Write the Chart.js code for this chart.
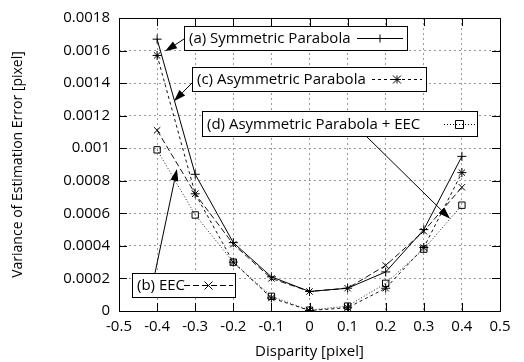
<!DOCTYPE html>
<html>
<head>
<meta charset="utf-8">
<script src="https://cdn.jsdelivr.net/npm/chart.js@4"></script>
<style>
  body { margin: 0; background: #fff; }
  canvas { display: block; }
</style>
</head>
<body>
<canvas id="chart" width="524" height="362"></canvas>
<script>
// ===== DATA =====
const disparity    = [-0.4, -0.3, -0.2, -0.1, 0, 0.1, 0.2, 0.3, 0.4];
const symParabola  = [0.00167, 0.00084, 0.00042, 0.00021, 0.00012, 0.00014, 0.00024, 0.00050, 0.00095];
const eec          = [0.00111, 0.00072, 0.00041, 0.00020, 0.00012, 0.00014, 0.00028, 0.00049, 0.00076];
const asymParabola = [0.00157, 0.00072, 0.00030, 0.00008, 0.000003, 0.00002, 0.00014, 0.00039, 0.00085];
const asymEEC      = [0.00099, 0.00059, 0.00030, 0.00009, 0.000005, 0.00003, 0.00017, 0.00038, 0.00065];

const xTicks = [-0.5, -0.4, -0.3, -0.2, -0.1, 0, 0.1, 0.2, 0.3, 0.4, 0.5];
const yTicks = [0, 0.0002, 0.0004, 0.0006, 0.0008, 0.001, 0.0012, 0.0014, 0.0016, 0.0018];

const FONT = '"Open Sans", "DejaVu Sans", sans-serif';

function pts(arr) {
  return disparity.map(function (x, i) { return { x: x, y: arr[i] }; });
}

// label boxes with arrows (tip given in data units)
const notes = [
  { text: '(a) Symmetric Parabola', box: [184, 26, 407, 50], sample: [357, 403], dash: [], mark: 'plus',
    from: [184, 39], tip: [-0.379, 0.001595] },
  { text: '(c) Asymmetric Parabola', box: [192, 67, 426, 91], sample: [372, 422], dash: [3, 3], mark: 'star',
    from: [192, 83], tip: [-0.356, 0.001288] },
  { text: '(d) Asymmetric Parabola + EEC', box: [202, 111, 477, 136], sample: [444, 475], dash: [1, 2], mark: 'square',
    from: [366, 136], tip: [0.369, 0.000567] },
  { text: '(b) EEC', box: [132, 273, 235, 297], sample: [184, 233], dash: [6, 3], mark: 'cross',
    from: [155, 273], tip: [-0.348, 0.000873] }
];

function drawMark(ctx, kind, x, y) {
  const r = 4;
  ctx.save();
  ctx.setLineDash([]);
  ctx.lineWidth = 1;
  ctx.strokeStyle = '#000';
  ctx.beginPath();
  if (kind === 'plus' || kind === 'star') {
    ctx.moveTo(x - r, y); ctx.lineTo(x + r, y);
    ctx.moveTo(x, y - r); ctx.lineTo(x, y + r);
  }
  if (kind === 'cross' || kind === 'star') {
    ctx.moveTo(x - r, y - r); ctx.lineTo(x + r, y + r);
    ctx.moveTo(x - r, y + r); ctx.lineTo(x + r, y - r);
  }
  if (kind === 'square') {
    ctx.rect(x - r, y - r, 2 * r, 2 * r);
  }
  ctx.stroke();
  ctx.restore();
}

function arrow(ctx, x0, y0, x1, y1) {
  const a = Math.atan2(y1 - y0, x1 - x0);
  const len = 12, w = 4;
  ctx.save();
  ctx.setLineDash([]);
  ctx.strokeStyle = '#000';
  ctx.fillStyle = '#000';
  ctx.lineWidth = 1;
  ctx.beginPath();
  ctx.moveTo(x0, y0);
  ctx.lineTo(x1 - Math.cos(a) * len, y1 - Math.sin(a) * len);
  ctx.stroke();
  ctx.beginPath();
  ctx.moveTo(x1, y1);
  ctx.lineTo(x1 - Math.cos(a) * len + Math.sin(a) * w, y1 - Math.sin(a) * len - Math.cos(a) * w);
  ctx.lineTo(x1 - Math.cos(a) * len - Math.sin(a) * w, y1 - Math.sin(a) * len + Math.cos(a) * w);
  ctx.closePath();
  ctx.fill();
  ctx.restore();
}

// frame, inward ticks, label boxes
const framePlugin = {
  id: 'frame',
  afterDatasetsDraw: function (chart) {
    const ctx = chart.ctx, a = chart.chartArea;
    const xs = chart.scales.x, ys = chart.scales.y;
    ctx.save();
    ctx.strokeStyle = '#000';
    ctx.lineWidth = 1;
    ctx.strokeRect(Math.round(a.left) + 0.5, Math.round(a.top) + 0.5,
                   Math.round(a.right - a.left), Math.round(a.bottom - a.top));
    ctx.beginPath();
    xTicks.forEach(function (v) {
      const x = Math.round(xs.getPixelForValue(v)) + 0.5;
      ctx.moveTo(x, a.bottom); ctx.lineTo(x, a.bottom - 8);
      ctx.moveTo(x, a.top); ctx.lineTo(x, a.top + 8);
    });
    yTicks.forEach(function (v) {
      const y = Math.round(ys.getPixelForValue(v)) + 0.5;
      ctx.moveTo(a.left, y); ctx.lineTo(a.left + 8, y);
      ctx.moveTo(a.right, y); ctx.lineTo(a.right - 8, y);
    });
    ctx.stroke();
    ctx.restore();
  },
  afterDraw: function (chart) {
    const ctx = chart.ctx;
    const xs = chart.scales.x, ys = chart.scales.y;
    notes.forEach(function (n) {
      const b = n.box;
      ctx.save();
      ctx.fillStyle = '#fff';
      ctx.fillRect(b[0], b[1], b[2] - b[0], b[3] - b[1]);
      ctx.strokeStyle = '#000';
      ctx.lineWidth = 1;
      ctx.strokeRect(b[0] + 0.5, b[1] + 0.5, b[2] - b[0], b[3] - b[1]);
      ctx.fillStyle = '#000';
      ctx.font = '15px ' + FONT;
      ctx.textBaseline = 'middle';
      ctx.fillText(n.text, b[0] + 5, (b[1] + b[3]) / 2 + 1);
      const my = Math.round((b[1] + b[3]) / 2) + 0.5;
      ctx.setLineDash(n.dash);
      ctx.beginPath();
      ctx.moveTo(n.sample[0], my);
      ctx.lineTo(n.sample[1], my);
      ctx.stroke();
      ctx.restore();
      drawMark(ctx, n.mark, (n.sample[0] + n.sample[1]) / 2, my);
      arrow(ctx, n.from[0], n.from[1], xs.getPixelForValue(n.tip[0]), ys.getPixelForValue(n.tip[1]));
    });
  }
};

const gridOpts = { color: '#9a9a9a', lineWidth: 1, drawTicks: false };
const borderOpts = { display: false, dash: [2, 3] };

new Chart(document.getElementById('chart'), {
  type: 'line',
  data: {
    datasets: [
      { label: '(a) Symmetric Parabola', data: pts(symParabola), borderColor: '#000', borderWidth: 1,
        pointStyle: 'cross', pointRadius: 4.5, pointBorderColor: '#000', pointBorderWidth: 1 },
      { label: '(b) EEC', data: pts(eec), borderColor: '#111', borderWidth: 1, borderDash: [6, 3],
        pointStyle: 'crossRot', pointRadius: 4.5, pointBorderColor: '#000', pointBorderWidth: 1 },
      { label: '(c) Asymmetric Parabola', data: pts(asymParabola), borderColor: '#111', borderWidth: 1, borderDash: [3, 3],
        pointStyle: 'star', pointRadius: 4.5, pointBorderColor: '#000', pointBorderWidth: 1 },
      { label: '(d) Asymmetric Parabola + EEC', data: pts(asymEEC), borderColor: '#222', borderWidth: 1, borderDash: [1, 2],
        pointStyle: 'rect', pointRadius: 4.5, pointBorderColor: '#000', pointBackgroundColor: 'rgba(0,0,0,0)', pointBorderWidth: 1 }
    ]
  },
  options: {
    responsive: false,
    animation: false,
    layout: { padding: { top: 12, right: 24, left: 0, bottom: 0 } },
    plugins: { legend: { display: false }, tooltip: { enabled: false } },
    scales: {
      x: {
        type: 'linear', min: -0.5, max: 0.5,
        afterFit: function (s) { s.height = 51; },
        afterBuildTicks: function (s) { s.ticks = xTicks.map(function (v) { return { value: v }; }); },
        ticks: { color: '#000', padding: 7, font: { family: FONT, size: 15 },
                 callback: function (v) { return String(parseFloat(v.toFixed(1))); } },
        grid: gridOpts, border: borderOpts,
        title: { display: true, text: 'Disparity [pixel]', color: '#000', padding: { top: 1, bottom: 1 },
                 font: { family: FONT, size: 15 } }
      },
      y: {
        min: 0, max: 0.0018,
        afterFit: function (s) { s.width = 119; },
        afterBuildTicks: function (s) { s.ticks = yTicks.map(function (v) { return { value: v }; }); },
        ticks: { color: '#000', padding: 9, font: { family: FONT, size: 15 },
                 callback: function (v) { return String(parseFloat(v.toFixed(4))); } },
        grid: gridOpts, border: borderOpts,
        title: { display: true, text: 'Variance of Estimation Error [pixel]', color: '#000', padding: { top: 10, bottom: 10 },
                 font: { family: FONT, size: 14 } }
      }
    }
  },
  plugins: [framePlugin]
});
</script>
</body>
</html>
